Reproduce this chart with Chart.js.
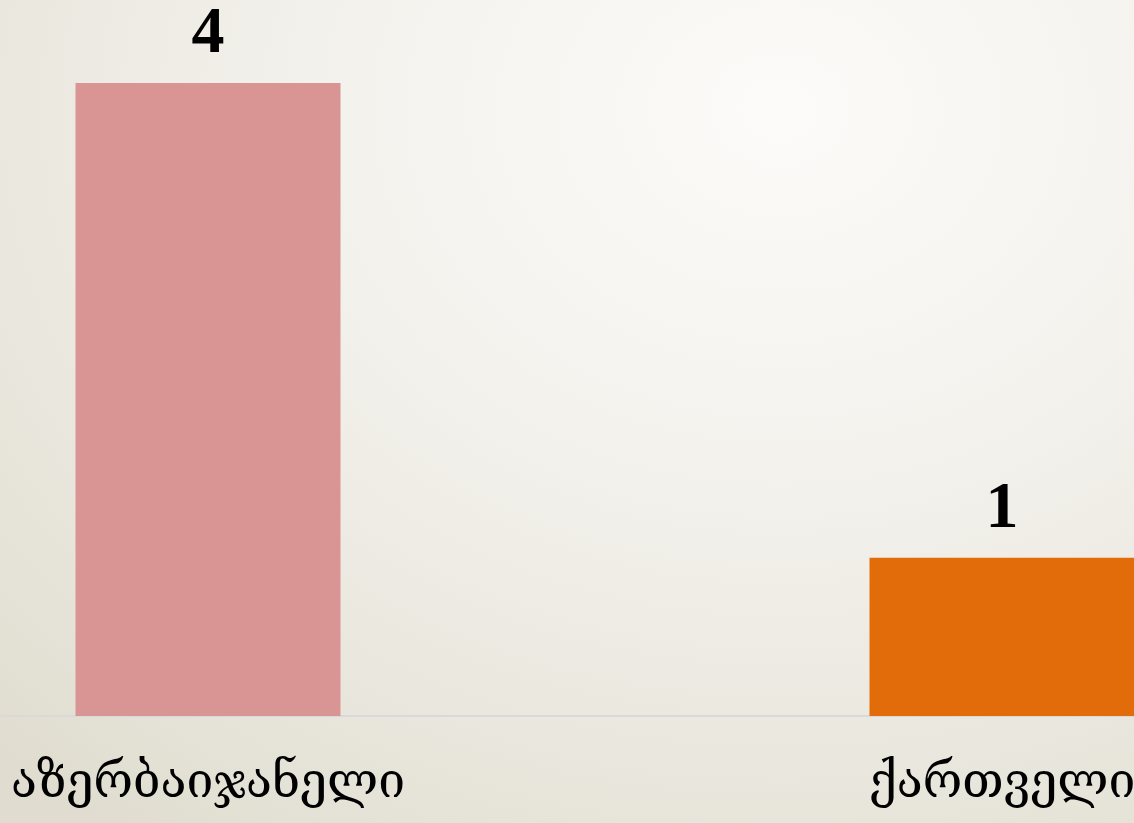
<!DOCTYPE html>
<html>
<head>
<meta charset="utf-8">
<script src="https://cdn.jsdelivr.net/npm/chart.js@4"></script>
<style>
  html, body { margin: 0; padding: 0; width: 1134px; height: 823px; overflow: hidden; }
  body {
    background: radial-gradient(ellipse 1100px 900px at 780px 110px, #fcfbf9 0%, #f4f2ed 40%, #e9e6dd 75%, #e0ddd0 100%);
    position: relative;
  }
  #wrap { position: absolute; left: -189.5px; top: 0; width: 1588px; height: 823px; }
</style>
</head>
<body>
<div id="wrap"><canvas id="c"></canvas></div>
<script>
const categories = ["აზერბაიჯანელი", "ქართველი"];
const values = [4, 1];
const barColors = ["#D99594", "#E36C0A"];

const valueLabels = {
  id: 'valueLabels',
  afterDatasetsDraw(chart) {
    const ctx = chart.ctx;
    const meta = chart.getDatasetMeta(0);
    ctx.save();
    ctx.font = 'bold 66px "Liberation Serif", "DejaVu Serif", serif';
    ctx.fillStyle = '#000';
    ctx.textAlign = 'center';
    ctx.textBaseline = 'alphabetic';
    meta.data.forEach((el, i) => {
      ctx.fillText(String(values[i]), el.x, el.y - 31);
    });
    ctx.restore();
  }
};

new Chart(document.getElementById('c'), {
  type: 'bar',
  data: {
    labels: categories,
    datasets: [{
      data: values,
      backgroundColor: barColors,
      borderWidth: 0,
      categoryPercentage: 1,
      barPercentage: 265 / 794
    }]
  },
  options: {
    responsive: true,
    maintainAspectRatio: false,
    animation: false,
    layout: { padding: { top: 83, bottom: 0, left: 0, right: 0 } },
    plugins: { legend: { display: false }, tooltip: { enabled: false } },
    scales: {
      y: { display: false, min: 0, max: 4 },
      x: {
        afterFit(scale) { scale.height = 107; },
        grid: { display: false, drawTicks: false },
        border: { display: true, color: '#d9d9dc', width: 2 },
        ticks: {
          color: '#000',
          padding: 40,
          maxRotation: 0,
          autoSkip: false,
          font: { family: '"DejaVu Serif", serif', size: 48 }
        }
      }
    }
  },
  plugins: [valueLabels]
});
</script>
</body>
</html>
